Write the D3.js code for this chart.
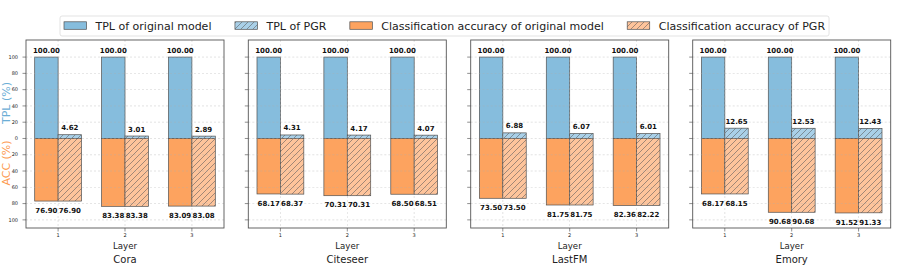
<!DOCTYPE html>
<html lang="en">
<head>
    <meta charset="UTF-8">
    <title>TPL and ACC per layer</title>
    <script src="https://d3js.org/d3.v7.min.js"></script>
    <style>
        body, html {
            margin: 0;
            padding: 0;
            background: #fff;
        }
        svg {
            display: block;
            font-family: "DejaVu Sans", sans-serif;
        }
    </style>
</head>
<body>
    <script>
        // Data
        const datasets = ["Cora", "Citeseer", "LastFM", "Emory"];
        const layers = [1, 2, 3];
        const tplOrig = [[100, 100, 100], [100, 100, 100], [100, 100, 100], [100, 100, 100]];
        const tplPGR = [[4.62, 3.01, 2.89], [4.31, 4.17, 4.07], [6.88, 6.07, 6.01], [12.65, 12.53, 12.43]];
        const accOrig = [[76.90, 83.38, 83.09], [68.17, 70.31, 68.50], [73.50, 81.75, 82.36], [68.17, 90.68, 91.52]];
        const accPGR = [[76.90, 83.38, 83.08], [68.37, 70.31, 68.51], [73.50, 81.75, 82.22], [68.15, 90.68, 91.33]];
        const yTicks = [100, 80, 60, 40, 20, 0, -20, -40, -60, -80, -100];
        const legendLabels = ["TPL of original model", "TPL of PGR",
            "Classification accuracy of original model", "Classification accuracy of PGR"];

        const width = 897;
        const height = 269;

        const blue = "#86bddd";
        const blueLight = "#a9d0e8";
        const orange = "#fda35f";
        const orangeLight = "#fec49b";
        const edge = "#505050";

        const svg = d3.select("body")
            .append("svg")
            .attr("width", width)
            .attr("height", height);

        // hatch patterns
        const defs = svg.append("defs");
        [["hatchBlue", blueLight], ["hatchOrange", orangeLight]].forEach(([id, col]) => {
            const p = defs.append("pattern")
                .attr("id", id)
                .attr("patternUnits", "userSpaceOnUse")
                .attr("width", 6)
                .attr("height", 6);
            p.append("rect").attr("width", 6).attr("height", 6).attr("fill", col);
            p.append("path")
                .attr("d", "M-1,1 l2,-2 M0,6 l6,-6 M5,7 l2,-2")
                .attr("stroke", "#555")
                .attr("stroke-width", 0.55);
        });

        const panelW = 198;
        const panelLeft = [26, 248.3, 470.7, 692.7];
        const plotTop = 40, plotBottom = 228;
        const barW = 0.35;

        const y = d3.scaleLinear().domain([-110, 121]).range([plotBottom, plotTop]);

        datasets.forEach((name, di) => {
            const x0 = panelLeft[di];
            const x = d3.scaleLinear().domain([0.52, 3.48]).range([x0, x0 + panelW]);
            const g = svg.append("g");

            const rows = layers.map((l, i) => ({
                layer: l,
                tplO: tplOrig[di][i], tplP: tplPGR[di][i],
                accO: accOrig[di][i], accP: accPGR[di][i]
            }));

            // bars
            const bw = x(1 + barW) - x(1);
            const bar = (val, xs, fill) => g.append("rect")
                .attr("x", xs)
                .attr("y", val >= 0 ? y(val) : y(0))
                .attr("width", bw)
                .attr("height", Math.abs(y(val) - y(0)))
                .attr("fill", fill)
                .attr("stroke", edge)
                .attr("stroke-width", 0.7);

            rows.forEach(r => {
                bar(r.tplO, x(r.layer - barW), blue);
                bar(r.tplP, x(r.layer), "url(#hatchBlue)");
                bar(-r.accO, x(r.layer - barW), orange);
                bar(-r.accP, x(r.layer), "url(#hatchOrange)");
            });

            // grid (drawn above patches like matplotlib)
            g.selectAll(".hgrid").data(yTicks).enter().append("line")
                .attr("x1", x0).attr("x2", x0 + panelW)
                .attr("y1", d => y(d)).attr("y2", d => y(d))
                .attr("stroke", "#b0b0b0").attr("stroke-width", 0.5)
                .attr("stroke-dasharray", "2,2").attr("opacity", 0.7);
            g.selectAll(".vgrid").data(layers).enter().append("line")
                .attr("x1", d => x(d)).attr("x2", d => x(d))
                .attr("y1", plotTop).attr("y2", plotBottom)
                .attr("stroke", "#b0b0b0").attr("stroke-width", 0.5)
                .attr("stroke-dasharray", "2,2").attr("opacity", 0.7);

            // value labels
            const lab = (txt, cx, cy) => g.append("text")
                .attr("x", cx).attr("y", cy)
                .attr("text-anchor", "middle")
                .attr("font-size", "7px")
                .attr("font-weight", "bold")
                .attr("fill", "#111")
                .text(txt);
            rows.forEach(r => {
                lab(r.tplO.toFixed(2), x(r.layer - barW / 2), y(r.tplO) - 4.5);
                lab(r.tplP.toFixed(2), x(r.layer + barW / 2), y(r.tplP) - 4.5);
                lab(r.accO.toFixed(2), x(r.layer - barW / 2), y(-r.accO) + 11.7);
                lab(r.accP.toFixed(2), x(r.layer + barW / 2), y(-r.accP) + 11.7);
            });

            // frame
            g.append("rect")
                .attr("x", x0).attr("y", plotTop)
                .attr("width", panelW).attr("height", plotBottom - plotTop)
                .attr("fill", "none")
                .attr("stroke", "#555")
                .attr("stroke-width", 0.9);

            // y ticks
            g.selectAll(".ytick").data(yTicks).enter().append("line")
                .attr("x1", x0 - 3.5).attr("x2", x0)
                .attr("y1", d => y(d)).attr("y2", d => y(d))
                .attr("stroke", "#444").attr("stroke-width", 0.6);
            if (di === 0) {
                g.selectAll(".ylab").data(yTicks).enter().append("text")
                    .attr("x", x0 - 8)
                    .attr("y", d => y(d) + 1.7)
                    .attr("text-anchor", "end")
                    .attr("font-size", "5px")
                    .attr("fill", "#222")
                    .text(d => Math.abs(d));
            }

            // x ticks
            g.selectAll(".xtick").data(layers).enter().append("line")
                .attr("x1", d => x(d)).attr("x2", d => x(d))
                .attr("y1", plotBottom).attr("y2", plotBottom + 3.5)
                .attr("stroke", "#444").attr("stroke-width", 0.6);
            g.selectAll(".xlab").data(layers).enter().append("text")
                .attr("x", d => x(d))
                .attr("y", plotBottom + 9)
                .attr("text-anchor", "middle")
                .attr("font-size", "5px")
                .attr("fill", "#222")
                .text(d => d);

            g.append("text")
                .attr("x", x0 + panelW / 2).attr("y", 248.5)
                .attr("text-anchor", "middle")
                .attr("font-size", "8.6px")
                .attr("fill", "#222")
                .text("Layer");
            g.append("text")
                .attr("x", x0 + panelW / 2).attr("y", 263)
                .attr("text-anchor", "middle")
                .attr("font-size", "10px")
                .attr("fill", "#222")
                .text(name);
        });

        // y axis titles
        svg.append("text")
            .attr("transform", "translate(9.5,103) rotate(-90)")
            .attr("text-anchor", "middle")
            .attr("font-size", "11px")
            .attr("fill", "#6baed6")
            .text("TPL (%)");
        svg.append("text")
            .attr("transform", "translate(9.5,163) rotate(-90)")
            .attr("text-anchor", "middle")
            .attr("font-size", "11px")
            .attr("fill", "#fd9a50")
            .text("ACC (%)");

        // legend
        const legendFills = [blue, "url(#hatchBlue)", orange, "url(#hatchOrange)"];
        const lg = svg.append("g");
        const box = lg.append("rect")
            .attr("y", 16).attr("height", 20)
            .attr("rx", 2)
            .attr("fill", "#fff")
            .attr("stroke", "#dcdcdc")
            .attr("stroke-width", 0.8);
        let lx = 64;
        legendLabels.forEach((t, i) => {
            lg.append("rect")
                .attr("x", lx).attr("y", 21.8)
                .attr("width", 22.5).attr("height", 7.5)
                .attr("fill", legendFills[i])
                .attr("stroke", edge)
                .attr("stroke-width", 0.7);
            const txt = lg.append("text")
                .attr("x", lx + 31.5).attr("y", 29.5)
                .attr("font-size", "11px")
                .attr("fill", "#222")
                .text(t);
            lx = lx + 31.5 + txt.node().getComputedTextLength() + 23.5;
        });
        box.attr("x", 60).attr("width", lx - 23.5 + 4 - 60);
    </script>
</body>
</html>
